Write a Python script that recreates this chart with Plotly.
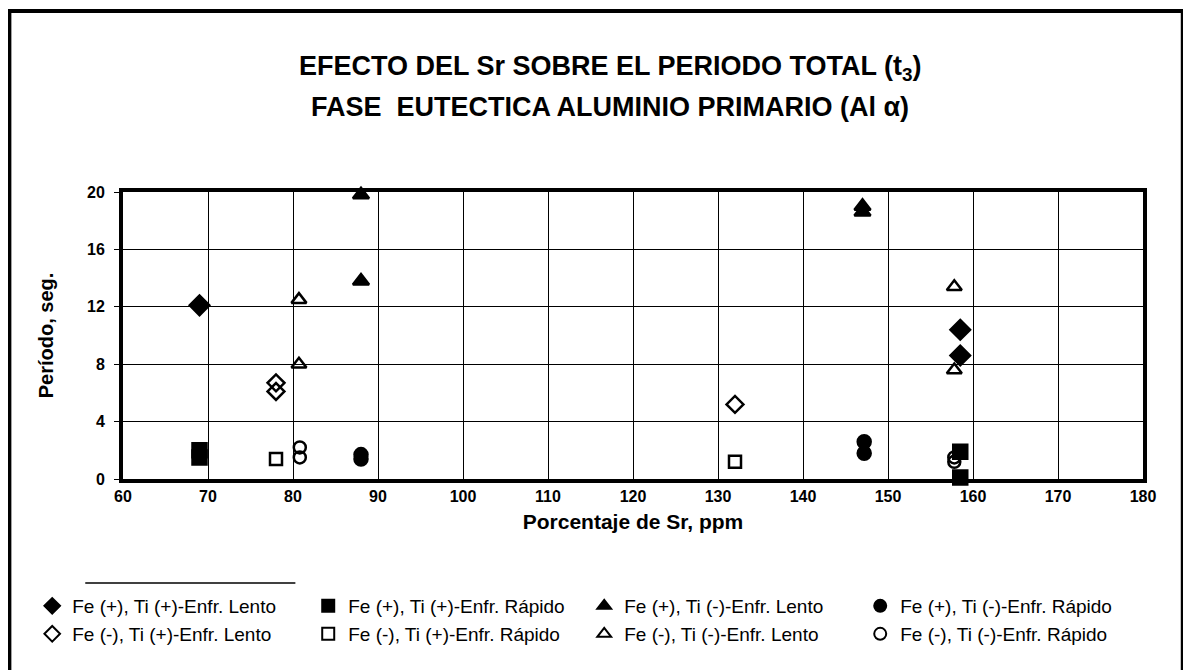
import plotly.graph_objects as go

# Datos: Sr (ppm) contra periodo total t3 (seg.)
nombres = [
    "Fe (+), Ti (+)-Enfr. Lento",
    "Fe (+), Ti (+)-Enfr. Rápido",
    "Fe (+), Ti (-)-Enfr. Lento",
    "Fe (+), Ti (-)-Enfr. Rápido",
    "Fe (-), Ti (+)-Enfr. Lento",
    "Fe (-), Ti (+)-Enfr. Rápido",
    "Fe (-), Ti (-)-Enfr. Lento",
    "Fe (-), Ti (-)-Enfr. Rápido",
]
simbolos = ["diamond", "square", "triangle-up", "circle",
            "diamond-open", "square-open", "triangle-up-open", "circle-open"]
tamanos = [15, 14, 14, 13, 13, 12, 13, 12]

sr_1 = [69, 158.5, 158.5]
t3_1 = [12.1, 10.4, 8.6]
sr_2 = [69, 69, 158.5, 158.5]
t3_2 = [1.5, 2.0, 1.9, 0.1]
sr_3 = [88, 88, 147, 147]
t3_3 = [19.8, 13.8, 19.0, 18.6]
sr_4 = [88, 88, 147.2, 147.2]
t3_4 = [1.7, 1.4, 2.6, 1.8]
sr_5 = [78, 78, 132]
t3_5 = [6.7, 6.1, 5.2]
sr_6 = [78, 132]
t3_6 = [1.4, 1.2]
sr_7 = [80.7, 80.7, 157.8, 157.8]
t3_7 = [12.5, 8.0, 13.4, 7.6]
sr_8 = [80.8, 80.8, 157.8, 157.8]
t3_8 = [2.2, 1.5, 1.2, 1.5]

xs = [sr_1, sr_2, sr_3, sr_4, sr_5, sr_6, sr_7, sr_8]
ys = [t3_1, t3_2, t3_3, t3_4, t3_5, t3_6, t3_7, t3_8]

fuente = "Liberation Sans, Arial, sans-serif"

fig = go.Figure()
for i in range(8):
    fig.add_trace(go.Scatter(
        x=xs[i], y=ys[i], mode="markers", name=nombres[i],
        marker=dict(symbol=simbolos[i], size=tamanos[i], color="black",
                    line=dict(color="black", width=2.5)),
        cliponaxis=False,
        # fila 1: Fe (+) ; fila 2: Fe (-)
        legend="legend" if i < 4 else "legend2",
    ))

leyenda = dict(orientation="h", x=-0.089, xanchor="left", yanchor="middle",
               entrywidth=231, itemsizing="constant",
               font=dict(family=fuente, size=19, color="black"),
               bgcolor="rgba(0,0,0,0)", tracegroupgap=0)

# la pagina tiene un margen de 8 px: figura de 1183 x 662
fig.update_layout(
    width=1183, height=662,
    margin=dict(l=115, r=48, t=184, b=191),
    paper_bgcolor="white", plot_bgcolor="white",
    font=dict(family=fuente, color="black"),
    showlegend=True,
    legend=dict(leyenda, y=-0.4425),
    legend2=dict(leyenda, y=-0.540),
    xaxis=dict(range=[60, 180], dtick=10, tick0=60,
               showgrid=True, gridcolor="black", gridwidth=1,
               showline=True, linecolor="black", linewidth=4, mirror=True,
               ticks="", zeroline=False,
               tickfont=dict(family=fuente, size=16, color="black", weight="bold"),
               title=dict(text="<b>Porcentaje de Sr, ppm</b>", standoff=11,
                          font=dict(family=fuente, size=21))),
    yaxis=dict(range=[0, 20], dtick=4,
               showgrid=True, gridcolor="black", gridwidth=1,
               showline=True, linecolor="black", linewidth=4, mirror=True,
               ticks="outside", ticklen=5, tickcolor="black", zeroline=False,
               ticklabelstandoff=6,
               tickfont=dict(family=fuente, size=16, color="black", weight="bold"),
               title=dict(text="<b>Período, seg.</b>", standoff=29,
                          font=dict(family=fuente, size=20))),
)

fig.add_annotation(text="<b>EFECTO DEL Sr SOBRE EL PERIODO TOTAL (t<sub>3</sub>)</b>",
                   xref="paper", yref="paper", x=0.4776, y=1.432,
                   xanchor="center", yanchor="middle", showarrow=False,
                   font=dict(family=fuente, size=27, color="black"))
fig.add_annotation(text="<b>FASE  EUTECTICA ALUMINIO PRIMARIO (Al α)</b>",
                   xref="paper", yref="paper", x=0.4776, y=1.296,
                   xanchor="center", yanchor="middle", showarrow=False,
                   font=dict(family=fuente, size=27, color="black"))

# marco exterior y linea sobre la leyenda
fig.add_shape(type="rect", xref="paper", yref="paper",
              x0=-0.1114, x1=1.039, y0=-0.77, y1=1.631,
              line=dict(color="black", width=4), layer="below")
fig.add_shape(type="line", xref="paper", yref="paper",
              x0=-0.037, x1=0.169, y0=-0.362, y1=-0.362,
              line=dict(color="black", width=1.5))

fig.write_html("out.html")
